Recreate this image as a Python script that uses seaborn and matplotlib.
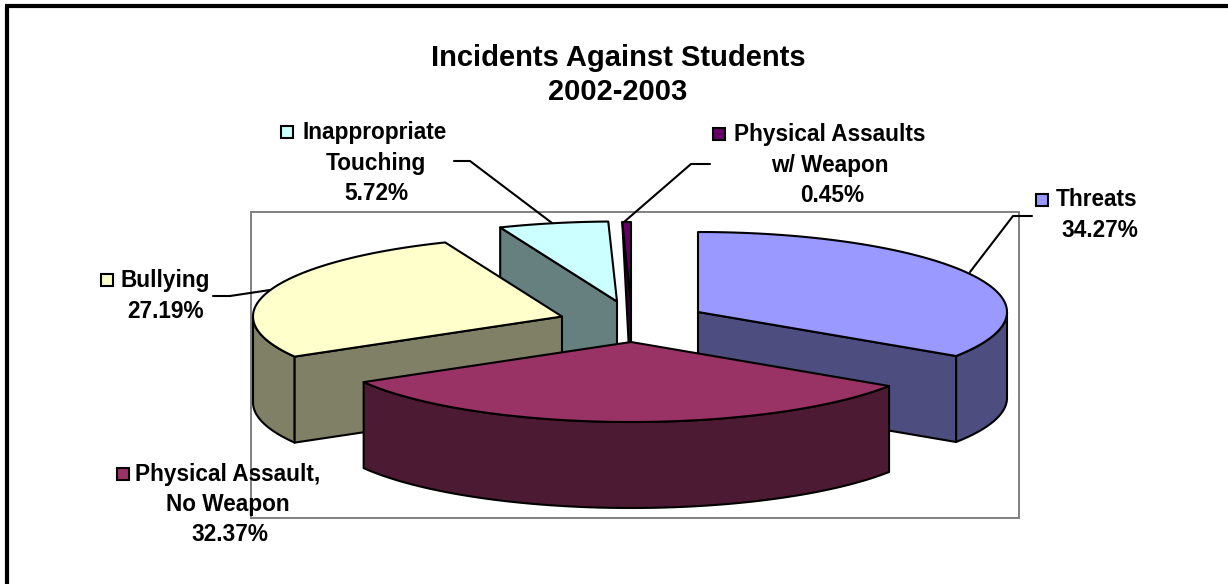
import numpy as np
import pandas as pd
import seaborn as sns
import matplotlib
matplotlib.use("Agg")
import matplotlib.pyplot as plt
from matplotlib.patches import Polygon, Rectangle

# Values
categories = ["Threats", "Physical Assault,\nNo Weapon", "Bullying", "Inappropriate\nTouching", "Physical Assaults\nw/ Weapon"]
percents = [34.27, 32.37, 27.19, 5.72, 0.45]
top_colors = ["#9999FF", "#993366", "#FFFFCC", "#CCFFFF", "#660066"]
title_lines = ["Incidents Against Students", "2002-2003"]

# Pie geometry, in pixels
center_x, center_y = 631, 321.5
rx, ry, depth = 309, 80, 86
# how far each slice is pulled out of the pie
explode = [(67, -9.5), (0, 20.5), (-69, -5), (-14, -20), (0, -19.5)]
draw_order = [0, 4, 3, 2, 1]

# Label placement: x centre of each line, y centre of first line, key x
label_x = [[1097, 1100], [228, 228, 230], [165, 166], [375, 375.5, 376.5], [830, 830, 832]]
label_y = [200, 474, 281, 133, 135]
key_x = [1041.5, 123, 107, 287, 719]
key_y = [200, 474, 280, 132, 134]
leaders = [
    ([970, 1013, 1032], [272, 216, 216]),
    None,
    ([270, 230, 213], [290, 296, 296]),
    ([552, 470, 454], [223, 161, 161]),
    ([624, 691, 710], [222, 164, 164]),
]

df = pd.DataFrame({"category": categories, "percent": percents})
df["end"] = df["percent"].cumsum() / df["percent"].sum() * 360
df["start"] = df["end"].shift(fill_value=0)

palette = sns.color_palette(top_colors)
shaded = [tuple(c * 0.5 for c in col) for col in palette]

sns.set_theme(style="white")
plt.rcParams["font.family"] = ["Liberation Sans", "DejaVu Sans"]

fig = plt.figure(figsize=(12.28, 5.84), dpi=100)
ax = fig.add_axes([0, 0, 1, 1])
ax.set_xlim(0, 1228)
ax.set_ylim(584, 0)
ax.axis("off")

# Outer frame, top and left only show in the crop
ax.plot([7, 7], [584, 6], color="black", lw=3, solid_capstyle="butt", zorder=1)
ax.plot([5, 1228], [6, 6], color="black", lw=3, solid_capstyle="butt", zorder=1)

# Plot area frame
ax.add_patch(Rectangle((251, 212), 768, 306, fill=False, ec="#808080", lw=1.4, zorder=1))


def rim(cx, cy, a0, a1):
    t = np.radians(np.linspace(a0, a1, max(int(abs(a1 - a0)) * 2, 2)))
    return np.column_stack([cx + rx * np.sin(t), cy - ry * np.cos(t)])


z = 2
for i in draw_order:
    row = df.iloc[i]
    a0, a1 = row["start"], row["end"]
    cx, cy = center_x + explode[i][0], center_y + explode[i][1]
    apex = np.array([cx, cy])
    down = np.array([0, depth])
    style = dict(ec="black", lw=1.5, joinstyle="round")

    # curved outer side
    lo, hi = max(a0, 90), min(a1, 270)
    if lo < hi:
        pts = rim(cx, cy, lo, hi)
        ax.add_patch(Polygon(np.vstack([pts, pts[::-1] + down]), fc=shaded[i], zorder=z, **style))
    # cut faces
    if a1 < 180:
        p = rim(cx, cy, a1, a1 + 1)[0]
        ax.add_patch(Polygon([apex, p, p + down, apex + down], fc=shaded[i], zorder=z, **style))
    if a0 > 180:
        p = rim(cx, cy, a0, a0 + 1)[0]
        if row["percent"] < 1:
            # thin slice comes out as a sliver
            ax.add_patch(Polygon([p, apex, apex + down], fc=shaded[i], zorder=z, **style))
        else:
            ax.add_patch(Polygon([apex, p, p + down, apex + down], fc=shaded[i], zorder=z, **style))
    # top face
    ax.add_patch(Polygon(np.vstack([apex, rim(cx, cy, a0, a1)]), fc=palette[i], zorder=z + 1, **style))
    z += 2

# Leader lines
for line in leaders:
    if line is not None:
        ax.plot(line[0], line[1], color="black", lw=1.5, zorder=30)

# Labels
for i, name in enumerate(categories):
    lines = name.split("\n") + [f"{percents[i]:.2f}%"]
    for j, txt in enumerate(lines):
        ax.text(label_x[i][j], label_y[i] + j * 30.3, txt, ha="center", va="center",
                fontsize=16.3, fontweight="bold", color="black", zorder=40)
    ax.add_patch(Rectangle((key_x[i] - 6, key_y[i] - 6), 12, 12, fc=palette[i], ec="black", lw=1.5, zorder=40))

# Title
ax.text(618, 58, title_lines[0], ha="center", va="center", fontsize=21, fontweight="bold", color="black")
ax.text(618, 92, title_lines[1], ha="center", va="center", fontsize=21, fontweight="bold", color="black")

fig.savefig("out.png", dpi=100)
